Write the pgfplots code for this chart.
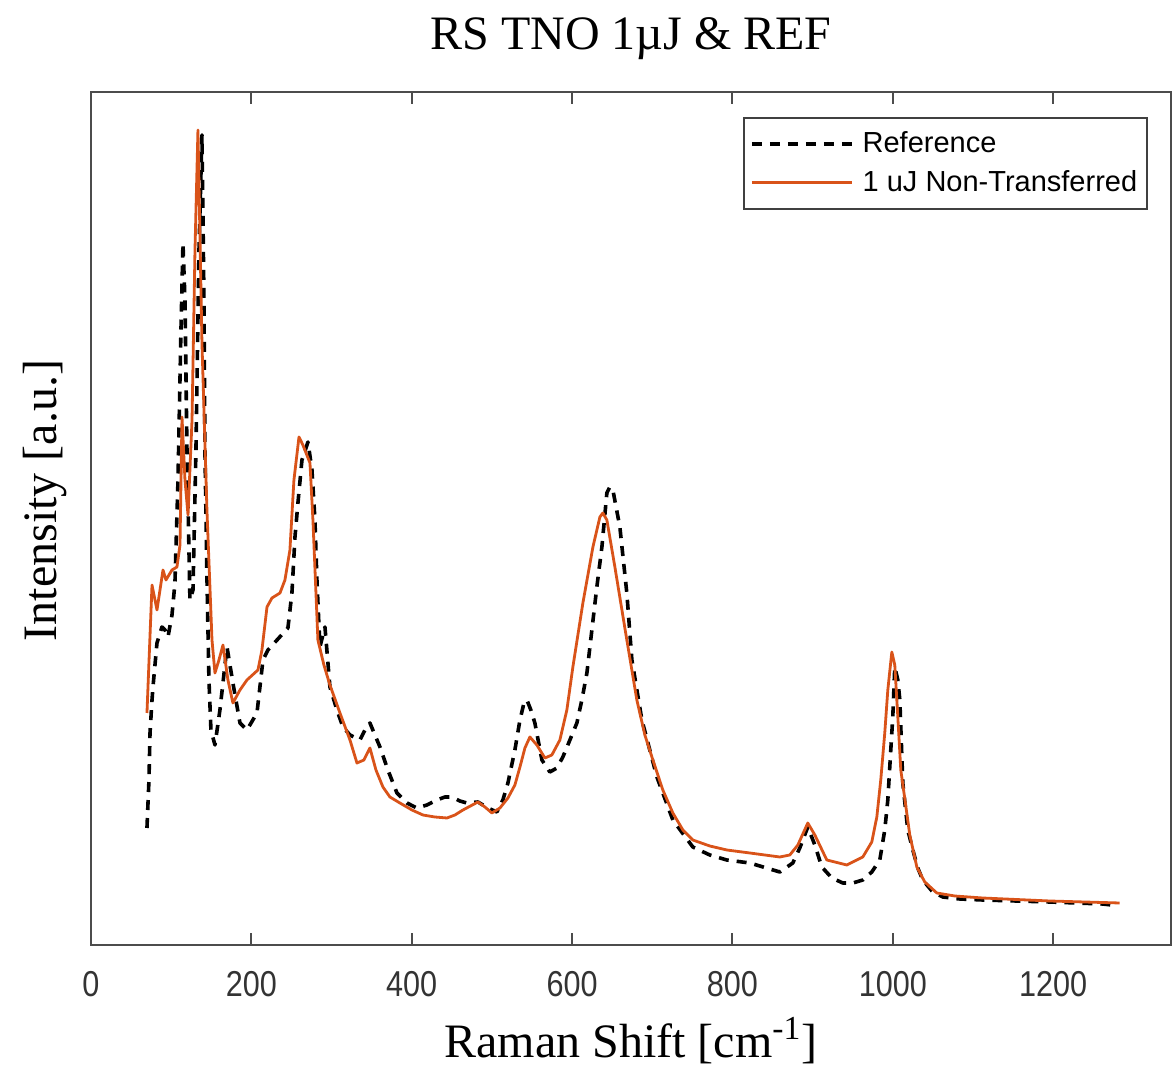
\documentclass[border=0pt]{standalone}
\usepackage{graphicx}
\usepackage{fontspec}
\setmainfont{Liberation Serif}
\setsansfont{Liberation Sans}
\usepackage{pgfplots}
\pgfplotsset{compat=1.18}
\definecolor{morange}{RGB}{217,83,25}
\newcommand\tl[1]{\scalebox{0.85}[1]{#1}}
\begin{document}
\begin{tikzpicture}
\begin{axis}[
  name=ax,
  scale only axis,
  width=540pt, height=426.5pt,
  xmin=0, xmax=1347, ymin=0, ymax=853,
  ytick=\empty,
  xtick={0,200,400,600,800,1000,1200},
  xticklabels={\tl{0},\tl{200},\tl{400},\tl{600},\tl{800},\tl{1000},\tl{1200}},
  xtick pos=both, tick align=inside,
  major tick length=6pt,
  axis line style={black!70, line width=1pt},
  every tick/.style={black!70, line width=1pt},
  xticklabel style={font=\sffamily\fontsize{18}{18}\selectfont, text=black!80, anchor=base, yshift=-26pt},
  title={RS TNO 1µJ \& REF},
  title style={font=\fontsize{24}{24}\selectfont, at={(axis description cs:0.5,1)}, anchor=base, yshift=15pt},
  xlabel={Raman Shift [cm\textsuperscript{-1}]},
  xlabel style={font=\fontsize{24}{24}\selectfont, at={(axis description cs:0.5,0)}, anchor=base, yshift=-56.5pt},
  ylabel={Intensity [a.u.]},
  ylabel style={font=\fontsize{24}{24}\selectfont, at={(axis description cs:-0.0315,0.521)}, anchor=base},
  legend style={at={(axis description cs:0.9787,0.9707)}, anchor=north east,
    font=\sffamily\fontsize{14.5}{17}\selectfont, draw=black!75, line width=0.8pt,
    inner xsep=3pt, inner ysep=5pt, row sep=3.5pt, cells={anchor=west},
    /tikz/every odd column/.append style={column sep=2.5pt}},
  legend image code/.code={\draw[#1] (0pt,0pt) -- (50pt,0pt);},
]
\addplot[black, line width=1.8pt, dash pattern=on 5pt off 4pt, line join=round] coordinates {
(69.8,117) (72.3,165) (73.6,212) (76.1,245) (77.3,258) (82.3,302) (88.5,318) (92.3,315)
(96,308) (101,330) (104.7,362) (108.5,465) (112.2,615) (114.7,702) (117.2,645) (119.7,495)
(123.4,345) (127.2,355) (130.9,495) (134.7,695) (138.4,810) (140.9,645) (142.1,495) (144.6,368)
(147.1,265) (149.6,215) (154.6,200) (160.8,235) (169.6,298) (177,262) (185.8,222) (194.5,215)
(207,232) (214.5,285) (220.7,295) (232,305) (245.6,317) (250.6,352) (254.4,408) (258.1,442)
(263.1,485) (270.6,503) (275.6,475) (279.3,425) (281.8,365) (285.5,298) (291.8,318) (298,258)
(306.7,235) (314.2,218) (323,210) (335.4,205) (341.7,215) (347.9,222) (354.1,210) (360.4,198)
(370.3,175) (381.6,152) (394.1,142) (406.5,137) (419,140) (431.4,145) (441.4,148) (450.1,148)
(460.1,144) (468.8,142) (482.6,143) (495,137) (506.2,133) (513.7,145) (520,162) (528.7,195)
(535,225) (540,242) (543.7,245) (548.6,235) (553.6,222) (562.4,185) (572.3,173) (581.1,177)
(588.5,188) (597.3,205) (606,222) (612.2,245) (618.5,272) (624.7,315) (630.9,358) (637.2,398)
(643.4,452) (647.1,458) (650.9,455) (659.6,418) (668.3,352) (674.6,285) (687.1,225) (705.8,168)
(725.7,125) (750.6,98) (771.8,90) (793,85) (821.7,82) (859.1,73) (875.3,82) (884,97)
(894,118) (902.8,100) (911.5,78) (924,67) (937.7,62) (950.2,62) (962.6,65) (973.8,73)
(983.8,85) (990,115) (993.8,145) (997.5,195) (1000,228) (1002.5,278) (1006.3,265) (1008.8,245)
(1012.5,162) (1018.7,115) (1025,95) (1031.2,77) (1037.4,65) (1049.9,53) (1062.4,48) (1083.6,46)
(1112.2,45) (1195.8,43) (1261.9,41) (1273,40)
};
\addlegendentry{Reference}
\addplot[morange, line width=1.4pt, line join=round] coordinates {
(69.8,232) (76.1,360) (82.3,335) (89.8,375) (93.5,365) (101,375) (107.2,378) (111,400)
(113.5,528) (117.2,465) (121,430) (126,525) (129.7,695) (133.4,815) (138.4,602) (144.6,435)
(150.9,305) (154.6,272) (159.6,285) (164.6,300) (170.8,265) (177,242) (185.8,255) (194.5,265)
(208.2,275) (213.2,295) (219.5,338) (225.7,347) (235.7,352) (241.9,365) (248.1,395) (253.1,465)
(259.4,508) (264.3,500) (273.1,482) (276.8,425) (283,305) (290.5,280) (298,260) (310.5,232)
(323,205) (331.7,182) (340.4,185) (347.9,197) (355.4,175) (364.1,158) (372.8,148) (385.3,142)
(400.3,135) (414,130) (428.9,128) (443.9,127) (453.9,130) (463.9,135) (482.6,143) (491.3,138)
(500,132) (510,137) (520,147) (528.7,160) (535,178) (541.2,197) (547.4,208) (556.1,200)
(566.1,187) (574.8,190) (584.8,205) (593.5,235) (601,278) (613.5,342) (626,398) (634.7,428)
(638.4,432) (643.4,425) (653.4,378) (668.3,305) (680.8,245) (690.8,210) (700.8,185) (713.2,155)
(725.7,132) (738.2,115) (750.6,105) (771.8,99) (793,95) (821.7,92) (859.1,88) (871.6,90)
(881.6,100) (894,122) (902.8,110) (917.7,85) (942.7,80) (962.6,88) (973.8,103) (980.1,128)
(985,165) (990,212) (993.8,255) (998.8,293) (1002.5,280) (1006.3,228) (1010,175) (1015.2,145)
(1021.2,110) (1030,78) (1039.9,63) (1054.9,52) (1077.3,49) (1112.2,47) (1195.8,44) (1283,42)
};
\addlegendentry{1 uJ Non-Transferred}
\end{axis}
\pgfresetboundingbox
\path[use as bounding box] ([xshift=-45.5pt,yshift=-62.5pt]ax.south west) rectangle ([xshift=1pt,yshift=46pt]ax.north east);
\end{tikzpicture}
\end{document}
